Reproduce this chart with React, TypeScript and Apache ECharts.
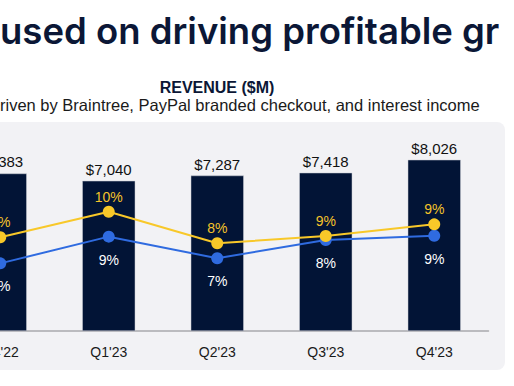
import React, { useEffect, useRef } from "react";
import * as echarts from "echarts";

const categories = ["Q4'22", "Q1'23", "Q2'23", "Q3'23", "Q4'23"];
const revenue = [7383, 7040, 7287, 7418, 8026];
const fxnGrowth = [8.55, 10.25, 8.15, 8.63, 9.41];
const spotGrowth = [6.81, 8.59, 7.15, 8.37, 8.65];

const titleText = "used on driving profitable gr";
const chartTitle = "REVENUE ($M)";
const subtitle = "riven by Braintree, PayPal branded checkout, and interest income";

export default function App() {
  const ref = useRef<HTMLDivElement>(null);
  useEffect(() => {
    document.body.style.margin = "0";
    const chart = echarts.init(ref.current!, null, { renderer: "svg" });
    const font = "'Liberation Sans', Arial, sans-serif";
    chart.setOption({
      animation: false,
      backgroundColor: "#ffffff",
      graphic: [
        {
          type: "rect",
          z: -10,
          silent: true,
          shape: { x: -20, y: 122, width: 525, height: 248, r: 8 },
          style: { fill: "#f2f2f5" },
        },
        {
          type: "text",
          x: 0,
          y: 12,
          style: {
            text: titleText,
            font: "600 36.5px Inter, sans-serif",
            fill: "#0b1736",
            align: "left",
            verticalAlign: "top",
          },
        },
        {
          type: "text",
          x: 217,
          y: 87,
          style: {
            text: chartTitle,
            font: "bold 16px " + font,
            fill: "#0b1736",
            align: "center",
            verticalAlign: "middle",
          },
        },
        {
          type: "text",
          x: 0,
          y: 105,
          style: {
            text: subtitle,
            font: "16.5px " + font,
            fill: "#1a1a1a",
            align: "left",
            verticalAlign: "middle",
          },
        },
      ],
      grid: { left: -54, width: 542.5, top: 139, height: 192, outerBoundsMode: "none", containLabel: false },
      xAxis: {
        type: "category",
        data: categories,
        axisLine: { lineStyle: { color: "#a9a9ad", width: 1.5 } },
        axisTick: { show: false },
        axisLabel: { color: "#1a1a1a", fontSize: 14, fontFamily: font, margin: 14 },
      },
      yAxis: [
        { type: "value", min: 0, max: 9000, show: false, splitLine: { show: false } },
        { type: "value", min: 2.3, max: 15.1, show: false, splitLine: { show: false } },
      ],
      series: [
        {
          type: "bar",
          data: revenue,
          barWidth: 53,
          itemStyle: { color: "#021436", borderColor: "#c8cad2", borderWidth: 0.5 },
          label: {
            show: true,
            position: "top",
            distance: 4,
            color: "#111111",
            fontSize: 15,
            fontFamily: font,
            formatter: (p: any) => "$" + Number(p.value).toLocaleString("en-US"),
          },
        },
        {
          type: "line",
          yAxisIndex: 1,
          data: spotGrowth,
          symbol: "circle",
          symbolSize: 12,
          lineStyle: { color: "#2f6be0", width: 2 },
          itemStyle: { color: "#2f6be0" },
          label: {
            show: true,
            position: "bottom",
            distance: 10,
            color: "#ffffff",
            fontSize: 14,
            fontFamily: font,
            formatter: (p: any) => Math.round(p.value) + "%",
          },
        },
        {
          type: "line",
          yAxisIndex: 1,
          data: fxnGrowth,
          symbol: "circle",
          symbolSize: 12,
          lineStyle: { color: "#f8c829", width: 2 },
          itemStyle: { color: "#f8c829" },
          label: {
            show: true,
            position: "top",
            distance: 2,
            color: "#f5c32a",
            fontSize: 14,
            fontFamily: font,
            formatter: (p: any) => Math.round(p.value) + "%",
          },
        },
      ],
    });
    return () => chart.dispose();
  }, []);
  return <div ref={ref} style={{ width: 514, height: 386 }} />;
}
